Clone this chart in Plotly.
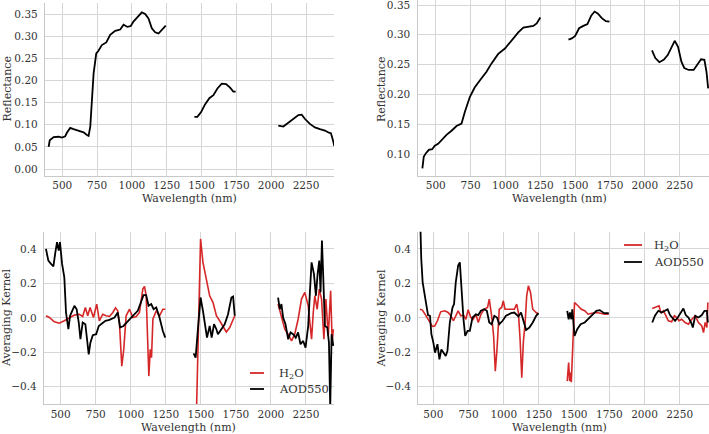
import plotly.graph_objects as go

# ---------------- data ----------------
# Top-left reflectance
tl_wl = [402, 410, 438, 474, 498, 521, 533, 557, 581, 617, 653, 677, 689, 701, 713, 725, 744, 760, 784, 816, 844, 880, 916, 940, 968, 992, 1011, 1040, 1071, 1095, 1119, 1143, 1167, 1191, 1215, 1243,
         None,
         1449, 1470, 1497, 1525, 1556, 1585, 1614, 1645, 1676, 1705, 1728, 1745,
         None,
         2051, 2087, 2116, 2159, 2195, 2219, 2243, 2278, 2314, 2350, 2386, 2414, 2429, 2446, 2453]
tl_refl = [0.050, 0.065, 0.072, 0.073, 0.071, 0.074, 0.082, 0.093, 0.090, 0.086, 0.083, 0.077, 0.075, 0.096, 0.156, 0.216, 0.261, 0.267, 0.280, 0.286, 0.303, 0.312, 0.315, 0.326, 0.321, 0.323, 0.333, 0.344, 0.354, 0.350, 0.340, 0.318, 0.309, 0.306, 0.314, 0.324,
           None,
           0.118, 0.118, 0.129, 0.146, 0.160, 0.167, 0.182, 0.193, 0.192, 0.184, 0.175, 0.175,
           None,
           0.098, 0.096, 0.103, 0.114, 0.122, 0.123, 0.113, 0.102, 0.094, 0.090, 0.087, 0.082, 0.081, 0.062, 0.052]

# Top-right reflectance
tr_wl = [404, 414, 428, 450, 474, 493, 517, 541, 577, 613, 649, 685, 709, 745, 780, 828, 864, 900, 948, 996, 1044, 1092, 1128, 1164, 1200, 1224, 1250,
         None,
         1452, 1476, 1500, 1528, 1559, 1588, 1615, 1639, 1662, 1691, 1720, 1746,
         None,
         2051, 2075, 2104, 2135, 2164, 2190, 2214, 2238, 2262, 2283, 2314, 2350, 2379, 2403, 2427, 2442, 2454]
tr_refl = [0.076, 0.0955, 0.101, 0.107, 0.108, 0.114, 0.117, 0.123, 0.132, 0.139, 0.147, 0.151, 0.171, 0.196, 0.212, 0.227, 0.238, 0.252, 0.268, 0.277, 0.291, 0.304, 0.312, 0.314, 0.315, 0.319, 0.329,
           None,
           0.292, 0.294, 0.298, 0.311, 0.315, 0.318, 0.332, 0.339, 0.336, 0.328, 0.323, 0.322,
           None,
           0.274, 0.261, 0.254, 0.258, 0.266, 0.280, 0.290, 0.280, 0.255, 0.244, 0.241, 0.241, 0.250, 0.259, 0.258, 0.238, 0.210]

# Bottom-left averaging kernels
bl_h2o_wl = [395, 419, 455, 490, 526, 562, 598, 633, 657, 676, 693, 710, 734, 757, 776, 800, 824, 848, 872, 891, 907, 919, 936, 950, 967, 991, 1015, 1039, 1062, 1086, 1098, 1110, 1122, 1129, 1139, 1148, 1158, 1182, 1205, 1229, 1246,
             None,
             1467, 1498, 1515, 1539, 1563, 1587, 1611, 1634, 1658, 1682, 1706, 1730, 1742,
             None,
             2051, 2075, 2099, 2123, 2147, 2170, 2194, 2218, 2242, 2266, 2290, 2302, 2313, 2330, 2345, 2361, 2378, 2392, 2409, 2426, 2437, 2445]
bl_h2o = [0.012, 0.002, -0.023, -0.031, -0.017, 0.002, 0.016, 0.021, 0.008, 0.060, 0.012, 0.060, 0.002, 0.080, -0.017, 0.021, 0.012, 0.008, 0.031, 0.058, 0.041, -0.027, -0.280, -0.183, 0.012, 0.050, 0.002, 0.008, 0.031, 0.167, 0.183, 0.128, -0.105, -0.338, -0.183, -0.231, -0.008, 0.041, 0.012, 0.050, 0.050,
          None,
          -0.61, 0.458, 0.322, 0.216, 0.128, 0.089, 0.012, -0.017, -0.047, -0.082, -0.056, -0.008, 0.012,
          None,
          0.080, 0.012, -0.066, -0.095, -0.134, -0.095, -0.008, 0.109, 0.148, 0.070, -0.124, 0.031, 0.128, 0.050, 0.167, 0.109, -0.124, 0.109, -0.105, 0.157, -0.144, -0.066]

bl_aod_wl = [395, 412, 431, 448, 462, 474, 486, 495, 510, 526, 538, 555, 567, 581, 598, 614, 629, 641, 657, 676, 688, 700, 712, 729, 753, 772, 788, 819, 848, 884, 907, 924, 948, 979, 1015, 1050, 1074, 1091, 1110, 1127, 1146, 1163, 1182, 1205, 1229, 1246,
             None,
             1448, 1463, 1479, 1498, 1515, 1532, 1544, 1563, 1577, 1594, 1611, 1622, 1646, 1670, 1694, 1718, 1730, 1742,
             None,
             2051, 2063, 2075, 2087, 2104, 2123, 2140, 2158, 2177, 2194, 2211, 2230, 2247, 2266, 2278, 2290, 2307, 2321, 2333, 2345, 2354, 2364, 2373, 2385, 2402, 2414, 2423, 2433, 2445]
bl_aod = [0.400, 0.332, 0.313, 0.299, 0.380, 0.439, 0.390, 0.439, 0.313, 0.235, 0.031, -0.066, 0.012, 0.041, 0.070, 0.050, -0.027, -0.124, -0.027, -0.037, -0.144, -0.212, -0.144, -0.101, -0.095, -0.047, -0.037, -0.017, -0.012, 0.002, 0.031, -0.056, -0.047, -0.017, 0.012, 0.041, 0.089, 0.132, 0.132, 0.070, 0.080, 0.050, 0.060, 0.002, -0.076, -0.115,
          None,
          -0.206, -0.231, -0.066, 0.118, 0.041, -0.066, -0.115, -0.047, -0.115, -0.037, -0.066, -0.095, -0.066, -0.037, 0.021, 0.118, 0.124, 0.012,
          None,
          0.118, 0.050, 0.080, 0.002, -0.037, -0.124, -0.085, -0.095, -0.115, -0.085, -0.153, -0.134, -0.173, -0.047, 0.148, 0.322, 0.254, 0.128, 0.254, 0.332, 0.148, 0.449, 0.245, -0.047, -0.056, -0.144, -0.52, -0.095, -0.163]

# Bottom-right averaging kernels
br_h2o_wl = [405, 422, 445, 469, 493, 510, 529, 552, 581, 605, 624, 643, 659, 676, 695, 714, 731, 747, 766, 783, 802, 819, 838, 861, 885, 897, 914, 928, 940, 952, 968, 985, 997, 1009, 1028, 1052, 1075, 1092, 1104, 1116, 1128, 1139, 1152, 1163, 1175, 1190, 1206, 1230, 1247,
             None,
             1451, 1461, 1468, 1475, 1480, 1492, 1503, 1527, 1551, 1575, 1599, 1627, 1658, 1687, 1717, 1746,
             None,
             2055, 2069, 2086, 2103, 2117, 2134, 2150, 2169, 2193, 2212, 2229, 2245, 2264, 2288, 2312, 2336, 2360, 2383, 2407, 2419, 2431, 2443, 2450]
br_h2o = [0.050, 0.045, 0.016, -0.017, -0.050, -0.047, -0.017, 0.035, 0.041, 0.031, 0.012, -0.017, 0.012, 0.041, 0.012, 0.016, -0.008, 0.047, 0.002, -0.008, 0.021, -0.027, 0.021, 0.050, 0.060, 0.109, 0.012, -0.105, -0.309, -0.183, 0.050, 0.060, 0.099, 0.050, 0.050, 0.050, 0.050, 0.080, 0.031, -0.124, -0.348, -0.144, -0.027, 0.128, 0.186, 0.148, 0.050, 0.031, 0.021,
          None,
          -0.367, -0.260, -0.367, -0.318, -0.373, -0.105, 0.089, 0.070, 0.050, 0.041, 0.021, 0.027, 0.031, 0.027, 0.021, 0.021,
          None,
          0.054, 0.060, 0.066, 0.070, 0.027, 0.041, 0.016, -0.017, -0.023, 0.012, 0.002, -0.017, -0.008, -0.027, -0.037, -0.008, 0.012, -0.027, -0.047, -0.085, -0.027, -0.056, 0.089]

br_aod_wl = [405, 414, 424, 438, 452, 462, 476, 486, 500, 512, 529, 543, 557, 571, 588, 600, 617, 636, 647, 659, 676, 688, 700, 714, 726, 743, 759, 778, 802, 819, 838, 861, 880, 897, 914, 933, 952, 968, 992, 1016, 1052, 1075, 1104, 1123, 1142, 1159, 1182, 1206, 1230, 1247,
             None,
             1451, 1461, 1470, 1480, 1487, 1496, 1503, 1522, 1546, 1575, 1599, 1627, 1658, 1682, 1713, 1746,
             None,
             2055, 2074, 2098, 2122, 2145, 2164, 2181, 2198, 2217, 2236, 2260, 2276, 2293, 2312, 2331, 2343, 2360, 2383, 2407, 2426, 2443, 2450]
br_aod = [0.62, 0.342, 0.206, 0.128, 0.050, 0.016, 0.012, -0.095, -0.144, -0.202, -0.153, -0.241, -0.183, -0.202, -0.221, -0.192, -0.027, 0.060, 0.080, 0.206, 0.303, 0.322, 0.148, -0.008, -0.105, -0.076, -0.076, 0.002, 0.021, 0.016, 0.041, 0.050, 0.041, -0.027, -0.037, 0.012, 0.002, -0.037, -0.017, 0.012, 0.027, 0.031, 0.008, 0.031, -0.023, -0.070, -0.056, -0.027, 0.012, 0.027,
          None,
          0.041, -0.008, 0.031, -0.008, 0.050, -0.047, -0.105, -0.066, -0.037, -0.027, -0.008, 0.016, 0.041, 0.045, 0.027, 0.027,
          None,
          -0.027, 0.012, 0.041, 0.031, 0.041, 0.050, 0.016, 0.002, -0.017, 0.002, 0.031, 0.054, 0.016, 0.002, -0.027, -0.056, 0.012, 0.002, 0.016, 0.041, 0.041, -0.027]

x_ticks = [500, 750, 1000, 1250, 1500, 1750, 2000, 2250]
refl_ticks_left = [0.00, 0.05, 0.10, 0.15, 0.20, 0.25, 0.30, 0.35]
refl_ticks_right = [0.10, 0.15, 0.20, 0.25, 0.30, 0.35]
ak_ticks = [-0.4, -0.2, 0.0, 0.2, 0.4]

# ---------------- figure ----------------
W, H = 709, 434
def px(x):
    return x / W
def py(y):
    return 1 - y / H

RED = "#d62728"
BLACK = "#000000"
FONT = "DejaVu Serif"
TXT = "#333333"
GRID = "#d6d6d6"

fig = go.Figure()
fig.add_trace(go.Scatter(x=tl_wl, y=tl_refl, mode="lines", line=dict(color=BLACK, width=1.8),
                         xaxis="x", yaxis="y", showlegend=False, connectgaps=False))
fig.add_trace(go.Scatter(x=tr_wl, y=tr_refl, mode="lines", line=dict(color=BLACK, width=1.8),
                         xaxis="x2", yaxis="y2", showlegend=False, connectgaps=False))
fig.add_trace(go.Scatter(x=bl_h2o_wl, y=bl_h2o, mode="lines", line=dict(color=RED, width=1.6),
                         xaxis="x3", yaxis="y3", showlegend=False, connectgaps=False))
fig.add_trace(go.Scatter(x=bl_aod_wl, y=bl_aod, mode="lines", line=dict(color=BLACK, width=1.8),
                         xaxis="x3", yaxis="y3", showlegend=False, connectgaps=False))
fig.add_trace(go.Scatter(x=br_h2o_wl, y=br_h2o, mode="lines", line=dict(color=RED, width=1.6),
                         xaxis="x4", yaxis="y4", showlegend=False, connectgaps=False))
fig.add_trace(go.Scatter(x=br_aod_wl, y=br_aod, mode="lines", line=dict(color=BLACK, width=1.8),
                         xaxis="x4", yaxis="y4", showlegend=False, connectgaps=False))

tickfont = dict(family=FONT, size=10.5, color=TXT)

def xax(dom, rng, anchor):
    return dict(domain=dom, range=rng, anchor=anchor, tickvals=x_ticks, showgrid=True,
                gridcolor=GRID, gridwidth=1, showline=True, linecolor="#c8c8c8", linewidth=1.3,
                zeroline=False, ticks="", tickfont=tickfont, ticklabelstandoff=0,
                ticklabeloverflow="allow")

def yax(dom, rng, anchor, ticks, fmt):
    return dict(domain=dom, range=rng, anchor=anchor, tickvals=ticks, tickformat=fmt,
                showgrid=True, gridcolor=GRID, gridwidth=1, showline=True, linecolor="#c8c8c8",
                linewidth=1.3, zeroline=False, ticks="", tickfont=tickfont, ticklabelstandoff=4,
                ticklabeloverflow="allow")

fig.update_layout(
    width=W, height=H, margin=dict(l=0, r=0, t=0, b=0),
    paper_bgcolor="white", plot_bgcolor="white",
    xaxis=xax([px(45), px(334)], [376, 2451], "y"),
    yaxis=yax([py(175.7), py(3)], [-0.015, 0.375], "x", refl_ticks_left, ".2f"),
    xaxis2=xax([px(417.5), 1.0], [369, 2460], "y2"),
    yaxis2=yax([py(175.7), 1.0], [0.0636, 0.3584], "x2", refl_ticks_right, ".2f"),
    xaxis3=xax([px(44), px(334)], [381, 2450], "y3"),
    yaxis3=yax([py(404), py(231.7)], [-0.5, 0.5], "x3", ak_ticks, ".1f"),
    xaxis4=xax([px(418.3), 1.0], [393, 2458], "y4"),
    yaxis4=yax([py(404), py(231.7)], [-0.5, 0.5], "x4", ak_ticks, ".1f"),
)

titlefont = dict(family=FONT, size=11, color=TXT)
ann = []
# x-axis titles
for cx, cy in [((45 + 334) / 2, 198), ((417.5 + 709) / 2 - 4, 198), ((44 + 334) / 2, 427), ((418 + 709) / 2 - 4, 427)]:
    ann.append(dict(text="Wavelength (nm)", x=px(cx), y=py(cy), xref="paper", yref="paper",
                    showarrow=False, font=titlefont, xanchor="center", yanchor="middle"))
# y-axis titles
for t, cx, cy in [("Reflectance", 7.5, 89), ("Reflectance", 382, 89),
                  ("Averaging Kernel", 6, 318), ("Averaging Kernel", 380.5, 318)]:
    ann.append(dict(text=t, x=px(cx), y=py(cy), xref="paper", yref="paper", textangle=-90,
                    showarrow=False, font=titlefont, xanchor="center", yanchor="middle"))

# legends (drawn as handles + labels)
shapes = []
legend_font = dict(family=FONT, size=11.5, color=TXT)
for (x0, x1, xt, y1, y2) in [(250, 264, 277, 373, 389), (624, 642, 652, 245, 262)]:
    for yy, col, lab in [(y1, RED, "H<sub>2</sub>O"), (y2, BLACK, "AOD550")]:
        shapes.append(dict(type="line", xref="paper", yref="paper", x0=px(x0), x1=px(x1),
                           y0=py(yy), y1=py(yy), line=dict(color=col, width=1.8)))
        ann.append(dict(text=lab, x=px(xt), y=py(yy), xref="paper", yref="paper", showarrow=False,
                        font=legend_font, xanchor="left", yanchor="middle"))

fig.update_layout(annotations=ann, shapes=shapes)
fig.write_html("out.html", config={"displayModeBar": False},
               post_script="document.body.style.margin='0';document.body.style.overflow='hidden';")
